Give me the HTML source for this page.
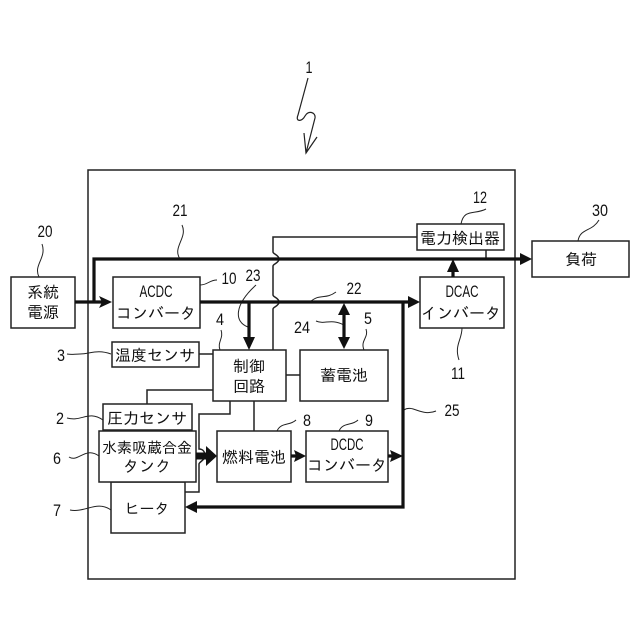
<!DOCTYPE html>
<html><head><meta charset="utf-8"><style>
html,body{margin:0;padding:0;background:#fff}
svg{display:block}
text{fill:#111}
.j{font-family:"IPAGothic","Liberation Sans","Noto Sans CJK JP",sans-serif;font-size:16px;text-anchor:middle}
.s{font-size:15px}
.l{font-family:"Liberation Sans",sans-serif;font-size:17px;text-anchor:middle}
.n{font-family:"Liberation Sans",sans-serif;font-size:17px;text-anchor:middle}
</style></head><body>
<svg width="640" height="640" viewBox="0 0 640 640" xmlns="http://www.w3.org/2000/svg">
<rect width="640" height="640" fill="#fff"/>
<g fill="none" stroke="#222" stroke-width="1.5">
<rect x="88" y="170" width="427" height="409"/>
<!-- thin lines -->
<path d="M417 237H273V252C273 254 279 255 279 259C279 263 273 264 273 266V295C273 297 279 298 279 302C279 306 273 307 273 309V350"/>
<path d="M486 250V259M199 354H213M286 375H300M147 404V390H213M254 401V431"/>
<path d="M230 401V414H199V449C203 449 205 452 205 456C205 460 199 462 199 464V492H185"/>
<rect x="11" y="277" width="64" height="51" fill="#fff"/>
<rect x="113" y="277" width="87" height="51" fill="#fff"/>
<rect x="112" y="342" width="87" height="25" fill="#fff"/>
<rect x="213" y="350" width="73" height="51" fill="#fff"/>
<rect x="300" y="350" width="88" height="51" fill="#fff"/>
<rect x="417" y="224" width="87" height="26" fill="#fff"/>
<rect x="420" y="277" width="84" height="51" fill="#fff"/>
<rect x="532" y="241" width="97" height="36" fill="#fff"/>
<rect x="103" y="404" width="89" height="26" fill="#fff"/>
<rect x="111" y="482" width="74" height="51" fill="#fff"/>
<rect x="99" y="431" width="97" height="51" fill="#fff"/>
<rect x="217" y="431" width="74" height="51" fill="#fff"/>
<rect x="306" y="431" width="82" height="51" fill="#fff"/>
<!-- leaders -->
<g stroke-width="1">
<path d="M39 277C33 265 47 258 42 244"/>
<path d="M180 259C172 247 188 238 182 225"/>
<path d="M200 285C208 285 209 280 217 280"/>
<path d="M248 327C234 322 234 305 256 285"/>
<path d="M220 350C217 342 224 338 221 330"/>
<path d="M111 354C97 349 90 354 80 354C74 354 72 355 67 354"/>
<path d="M103 420C88 410 82 422 67 418"/>
<path d="M99 456C85 446 78 463 69 457"/>
<path d="M111 510C97 500 85 513 70 510"/>
<path d="M310 302C320 293 325 300 336 292"/>
<path d="M344 325C330 318 325 325 316 321"/>
<path d="M364 350C360 340 369 338 366 329"/>
<path d="M461 224C464 208 475 215 486 209"/>
<path d="M578 241C580 228 592 232 599 220"/>
<path d="M462 328C462 340 454 345 459 360"/>
<path d="M277 431C281 422 290 426 296 420"/>
<path d="M339 431C343 422 352 426 358 420"/>
<path d="M404 410C412 404 422 417 436 411"/>
</g>
<path d="M308 78L298 115C295 122 302 122 305 116C308 110 316 112 315 118L306 153M304 133L306 153L317 137" stroke-width="1.2"/>
</g>
<!-- thick lines -->
<g fill="none" stroke="#111" stroke-width="3.2">
<path d="M75 302H105M94 302V259H522"/>
<path d="M200 302H410M403 302V507H195"/>
<path d="M249 302V340M344 312V340M453 277V268"/>
<path d="M291 456H297M388 456H394" />
</g>
<path d="M196 456H208" stroke="#111" stroke-width="7"/>
<g fill="#111">
<path d="M113 302L100 296L103 302L100 308Z" transform="translate(-1 0)"/>
<path d="M249 350L243 337H255Z"/>
<path d="M344 303L338 315H350Z"/>
<path d="M344 349L338 337H350Z"/>
<path d="M453 259L447 272H459Z"/>
<path d="M532 259L520 253V265Z"/>
<path d="M420 302L408 296V308Z"/>
<path d="M185 507L197 501V513Z"/>
<path d="M217 456L206 446V466Z"/>
<path d="M306 456L294 450L296 456L294 462Z"/>
<path d="M403 456L390 450L392 456L390 462Z"/>
</g>
<!-- box text -->
<text class="j" x="43" y="298">系統</text>
<text class="j" x="43" y="318">電源</text>
<text class="l" x="156" y="297" textLength="33" lengthAdjust="spacingAndGlyphs">ACDC</text>
<text class="j" x="156" y="319">コンバータ</text>
<text class="j" x="155" y="361">温度センサ</text>
<text class="j" x="249" y="372">制御</text>
<text class="j" x="249" y="392">回路</text>
<text class="j" x="344" y="381">蓄電池</text>
<text class="j" x="460" y="244">電力検出器</text>
<text class="l" x="462" y="297" textLength="33" lengthAdjust="spacingAndGlyphs">DCAC</text>
<text class="j" x="461" y="319">インバータ</text>
<text class="j" x="581" y="265">負荷</text>
<text class="j" x="147" y="424">圧力センサ</text>
<text class="j s" x="147" y="453">水素吸蔵合金</text>
<text class="j" x="147" y="472">タンク</text>
<text class="j s" x="147" y="514">ヒータ</text>
<text class="j" x="254" y="463">燃料電池</text>
<text class="l" x="347" y="450" textLength="33" lengthAdjust="spacingAndGlyphs">DCDC</text>
<text class="j" x="347" y="471">コンバータ</text>
<!-- ref numerals -->
<text class="n" x="309" y="73" textLength="7" lengthAdjust="spacingAndGlyphs">1</text>
<text class="n" x="45" y="237" textLength="15" lengthAdjust="spacingAndGlyphs">20</text>
<text class="n" x="180" y="216" textLength="15" lengthAdjust="spacingAndGlyphs">21</text>
<text class="n" x="229" y="284" textLength="15" lengthAdjust="spacingAndGlyphs">10</text>
<text class="n" x="253" y="281" textLength="15" lengthAdjust="spacingAndGlyphs">23</text>
<text class="n" x="220" y="325" textLength="8" lengthAdjust="spacingAndGlyphs">4</text>
<text class="n" x="61" y="361" textLength="8" lengthAdjust="spacingAndGlyphs">3</text>
<text class="n" x="60" y="424" textLength="8" lengthAdjust="spacingAndGlyphs">2</text>
<text class="n" x="57" y="464" textLength="8" lengthAdjust="spacingAndGlyphs">6</text>
<text class="n" x="57" y="516" textLength="8" lengthAdjust="spacingAndGlyphs">7</text>
<text class="n" x="354" y="294" textLength="15" lengthAdjust="spacingAndGlyphs">22</text>
<text class="n" x="302" y="333" textLength="16" lengthAdjust="spacingAndGlyphs">24</text>
<text class="n" x="368" y="324" textLength="8" lengthAdjust="spacingAndGlyphs">5</text>
<text class="n" x="480" y="203" textLength="14" lengthAdjust="spacingAndGlyphs">12</text>
<text class="n" x="600" y="216" textLength="16" lengthAdjust="spacingAndGlyphs">30</text>
<text class="n" x="458" y="379" textLength="14" lengthAdjust="spacingAndGlyphs">11</text>
<text class="n" x="307" y="426" textLength="8" lengthAdjust="spacingAndGlyphs">8</text>
<text class="n" x="369" y="426" textLength="8" lengthAdjust="spacingAndGlyphs">9</text>
<text class="n" x="452" y="416" textLength="15" lengthAdjust="spacingAndGlyphs">25</text>
</svg>
</body></html>
